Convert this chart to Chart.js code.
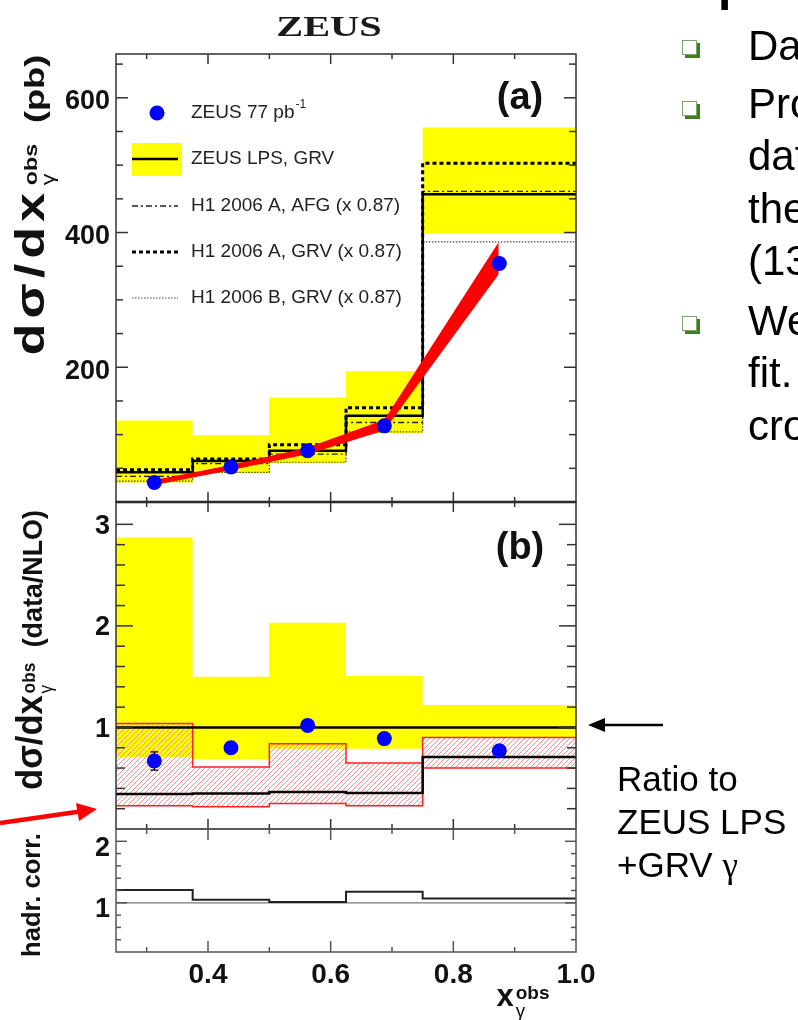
<!DOCTYPE html>
<html>
<head>
<meta charset="utf-8">
<title>ZEUS dsigma/dx_gamma^obs</title>
<script src="https://cdn.jsdelivr.net/npm/chart.js@4.4.1/dist/chart.umd.min.js"></script>
<style>
  html, body { margin: 0; padding: 0; background: #fff; }
  #page { position: relative; width: 798px; height: 1020px; overflow: hidden;
          font-family: "Liberation Sans", Arial, sans-serif; color: #000; }
  #page canvas { position: absolute; left: 0; top: 0; }
  .abs { position: absolute; white-space: nowrap; line-height: 1; }
  .slide { font-size: 42px; left: 748px; }
  .bullet { position: absolute; left: 682px; width: 13px; height: 13px;
            border: 1.5px solid #7ea567; box-shadow: 3px 3px 0 #3f7f22; background: #fff; }
  .note { font-size: 35px; left: 617px; }
  .ytitle { font-weight: bold; color: #111; }
  .dsig { font-size: 36px; }
  .ss { display: inline-block; vertical-align: middle; line-height: 0.95; text-align: left; font-size: 18px; margin-left: 2px; }
  .ss span { display: block; }
  .ss .g { font-weight: normal; }
  .unit { font-size: 28px; margin-left: 16px; }
  .plabel { font-weight: bold; font-size: 38px; color: #111; }
</style>
</head>
<body>
<div id="page">
  <canvas id="chartA" width="798" height="1020"></canvas>
  <canvas id="chartB" width="798" height="1020"></canvas>
  <canvas id="chartC" width="798" height="1020"></canvas>

  <div class="abs" id="zeusTitle" style="font-family:'Liberation Serif',serif;font-weight:bold;font-size:30px;color:#1a1a1a;">ZEUS</div>

  <div class="abs ytitle" id="titleA"><span class="dsig" style="font-size:40px;letter-spacing:4px">dσ/dx</span><span class="ss"><span>obs</span><span class="g">γ</span></span><span class="unit">(pb)</span></div>
  <div class="abs ytitle" id="titleB"><span class="dsig">dσ/dx</span><span class="ss"><span>obs</span><span class="g">γ</span></span><span class="unit">(data/NLO)</span></div>
  <div class="abs ytitle" id="titleC" style="font-size:25px;">hadr. corr.</div>
  <div class="abs ytitle" id="titleX"><span style="font-size:31px">x</span><span class="ss" style="font-size:19px"><span>obs</span><span class="g">γ</span></span></div>

  <div class="abs plabel" id="labelA">(a)</div>
  <div class="abs plabel" id="labelB">(b)</div>

  <div class="abs" style="font-size:48px;font-weight:bold;left:718px;top:-40px;">p</div>
  <div class="bullet" style="top:40px"></div>
  <div class="bullet" style="top:101px"></div>
  <div class="bullet" style="top:316px"></div>
  <div class="abs slide" style="top:25px">Da</div>
  <div class="abs slide" style="top:83px">Pro</div>
  <div class="abs slide" style="top:135px">dat</div>
  <div class="abs slide" style="top:188px">the</div>
  <div class="abs slide" style="top:240px">(13</div>
  <div class="abs slide" style="top:300px">We</div>
  <div class="abs slide" style="top:352px">fit.</div>
  <div class="abs slide" style="top:405px">cro</div>

  <div class="abs note" style="top:761px">Ratio to</div>
  <div class="abs note" style="top:804px">ZEUS LPS</div>
  <div class="abs note" style="top:847px">+GRV <span style="font-family:'Liberation Serif',serif">γ</span></div>

  <svg class="abs" style="left:0;top:0;pointer-events:none" width="798" height="1020">
    <line x1="663" y1="725" x2="600" y2="725" stroke="#000" stroke-width="2.5"/>
    <polygon points="588,725 605,718 605,732" fill="#000"/>
    <line x1="0" y1="823" x2="80" y2="811.5" stroke="#f00" stroke-width="4.5"/>
    <polygon points="97,809 76,803 79,821" fill="#f00"/>
  </svg>
</div>

<script>
Chart.defaults.font.family = '"Liberation Sans", Arial, sans-serif';
Chart.defaults.animation = false;

// x_gamma^obs bins
const binEdges = [0.25, 0.375, 0.5, 0.625, 0.75, 1.0];
const binCenters = [0.3125, 0.4375, 0.5625, 0.6875, 0.875];

// (a) cross section in pb
const zeusXsec = [29, 52, 76, 113, 354];
const zeusXsecErr = [3, 4, 5, 7, 22];
const lpsGrv = [44, 61, 76, 128, 457];
const lpsGrvLow = [29, 43, 58, 102, 398];
const lpsGrvHigh = [121, 99, 155, 194, 556];
const h1aAfg = [38, 57, 71, 118, 461];
const h1aGrv = [48, 64, 85, 140, 503];
const h1bGrv = [31, 44, 59, 104, 386];
const fitX = [0.3125, 0.4375, 0.5625, 0.6875, 0.874];
const fitLow = [27, 48, 71, 106, 338];
const fitHigh = [31, 55, 81, 122, 386];
const fitMid = [29, 51, 76, 113, 362];

// (b) ratio data/NLO
const ratioData = [0.67, 0.80, 1.02, 0.89, 0.77];
const ratioErr = [0.09, 0.04, 0.04, 0.04, 0.04];
const ratioBandLow = [0.71, 0.69, 0.79, 0.79, 0.90];
const ratioBandHigh = [2.87, 1.50, 2.03, 1.51, 1.22];
const h1Ratio = [0.345, 0.35, 0.365, 0.355, 0.71];
const h1RatioLow = [0.23, 0.22, 0.25, 0.23, 0.60];
const h1RatioHigh = [1.04, 0.61, 0.84, 0.65, 0.90];
const unitX = [0.25, 1.0];
const unitY = [1, 1];

// (c) hadronisation correction
const hadrCorr = [1.21, 1.05, 1.015, 1.18, 1.07];

// ticks
const xTickLabels = [0.4, 0.6, 0.8, 1.0];
const xMajorTicks = [0.4, 0.6, 0.8];
const xMinorTicks = [0.3, 0.5, 0.7, 0.9];
const aTickLabels = [200, 400, 600];
const bTickLabels = [1, 2, 3];
const cTickLabels = [1, 2];

const legendLabels = ['ZEUS 77 pb', 'ZEUS LPS, GRV', 'H1 2006 A, AFG (x 0.87)',
                      'H1 2006 A, GRV (x 0.87)', 'H1 2006 B, GRV (x 0.87)'];

const style = {
  lps: { color: '#000', width: 2.5, dash: [] },
  afg: { color: '#222', width: 1.3, dash: [6, 3, 2, 3] },
  h1a: { color: '#000', width: 3, dash: [4, 3] },
  h1b: { color: '#444', width: 1.2, dash: [1.5, 1.5] }
};
const yellow = '#ffff00';
const blue = '#0000ff';
const clear = 'rgba(0,0,0,0)';

function steps(values) {
  const p = values.map((v, i) => ({ x: binEdges[i], y: v }));
  p.push({ x: binEdges[binEdges.length - 1], y: values[values.length - 1] });
  return p;
}
function xy(xs, ys) { return xs.map((x, i) => ({ x: x, y: ys[i] })); }

// 'before' = horizontal run first, then the vertical jump at the next edge
function stepLine(values, st, order) {
  return { data: steps(values), stepped: 'before', borderColor: st.color, borderWidth: st.width,
           borderDash: st.dash, pointRadius: 0, fill: false, order: order };
}
function stepBand(low, high, fillColor, edgeColor, edgeWidth, order) {
  const edge = edgeColor || clear;
  return [
    { data: steps(low), stepped: 'before', borderColor: edge, borderWidth: edgeWidth || 0.01,
      pointRadius: 0, fill: false, order: order },
    { data: steps(high), stepped: 'before', borderColor: edge, borderWidth: edgeWidth || 0.01,
      pointRadius: 0, fill: fillColor ? '-1' : false, backgroundColor: fillColor || clear, order: order }
  ];
}
function points(xs, ys, order) {
  return { data: xy(xs, ys), showLine: false, pointRadius: 7.5, pointBackgroundColor: blue,
           pointBorderWidth: 0, order: order };
}

function range(from, to, step, skip) {
  const out = [];
  for (let v = from; v <= to + 1e-9; v += step) {
    const r = Math.round(v * 1000) / 1000;
    if (!skip.some(s => Math.abs(s - r) < 1e-6)) out.push(r);
  }
  return out;
}

function scalesFor(ymin, ymax, yLabels, labelOffset, showX) {
  return {
    x: {
      type: 'linear', min: 0.25, max: 1.0, display: showX,
      grid: { display: false, drawTicks: false }, border: { display: false },
      afterBuildTicks: ax => { ax.ticks = xTickLabels.map(v => ({ value: v })); },
      afterFit: ax => { ax.height = showX ? 45 : 0; },
      ticks: { font: { size: 28, weight: 'bold' }, color: '#111', padding: 6,
               autoSkip: false, maxRotation: 0, callback: v => Number(v).toFixed(1) }
    },
    y: {
      type: 'linear', min: ymin, max: ymax,
      grid: { display: false, drawTicks: false }, border: { display: false },
      afterBuildTicks: ax => { ax.ticks = yLabels.map(v => ({ value: v })); },
      afterFit: ax => { ax.width = 116; },
      ticks: { font: { size: 27, weight: 'bold' }, color: '#111', padding: 6,
               labelOffset: labelOffset, autoSkip: false, callback: v => String(v) }
    }
  };
}

// inward ticks on all four sides plus the frame
function frameTicks(cfg) {
  return {
    id: 'frameTicks',
    afterDatasetsDraw(chart) {
      const { ctx, chartArea: ca, scales: { x, y } } = chart;
      const seg = (x1, y1, x2, y2) => { ctx.beginPath(); ctx.moveTo(x1, y1); ctx.lineTo(x2, y2); ctx.stroke(); };
      ctx.save();
      ctx.strokeStyle = cfg.color;
      ctx.lineWidth = 1.5;
      const xt = (list, len) => list.forEach(v => {
        const p = x.getPixelForValue(v);
        seg(p, ca.bottom, p, ca.bottom - len);
        seg(p, ca.top, p, ca.top + len);
      });
      const yt = (list, len) => list.forEach(v => {
        const p = y.getPixelForValue(v);
        seg(ca.left, p, ca.left + len, p);
        seg(ca.right, p, ca.right - len, p);
      });
      xt(xMajorTicks, cfg.xMaj); xt(xMinorTicks, cfg.xMin);
      yt(cfg.yMajor, cfg.yMaj); yt(cfg.yMinor, cfg.yMin);
      ctx.strokeRect(ca.left, ca.top, ca.right - ca.left, ca.bottom - ca.top);
      if (cfg.bottomWidth) {
        ctx.lineWidth = cfg.bottomWidth; ctx.strokeStyle = '#111';
        seg(ca.left, ca.bottom, ca.right, ca.bottom);
      }
      ctx.restore();
    }
  };
}

const errorBars = {
  id: 'errorBars',
  beforeDatasetDraw(chart, args, opts) {
    if (args.index !== opts.dataset) return;
    const { ctx, scales: { x, y } } = chart;
    ctx.save();
    ctx.strokeStyle = '#000';
    ctx.lineWidth = 1.3;
    opts.xs.forEach((xv, i) => {
      const px = x.getPixelForValue(xv);
      const lo = y.getPixelForValue(opts.ys[i] - opts.errs[i]);
      const hi = y.getPixelForValue(opts.ys[i] + opts.errs[i]);
      ctx.beginPath();
      ctx.moveTo(px, lo); ctx.lineTo(px, hi);
      ctx.moveTo(px - 4, lo); ctx.lineTo(px + 4, lo);
      ctx.moveTo(px - 4, hi); ctx.lineTo(px + 4, hi);
      ctx.stroke();
    });
    ctx.restore();
  }
};

// diagonal hatching between a low and a high histogram, clipped to the bins
const hatchBand = {
  id: 'hatchBand',
  beforeDatasetDraw(chart, args, opts) {
    if (args.index !== opts.dataset) return;
    const { ctx, chartArea: ca, scales: { x, y } } = chart;
    ctx.save();
    ctx.beginPath();
    opts.low.forEach((lo, i) => {
      const x0 = x.getPixelForValue(binEdges[i]);
      const x1 = x.getPixelForValue(binEdges[i + 1]);
      const y0 = y.getPixelForValue(opts.high[i]);
      const y1 = y.getPixelForValue(lo);
      ctx.rect(x0, y0, x1 - x0, y1 - y0);
    });
    ctx.clip();
    ctx.strokeStyle = opts.color;
    ctx.lineWidth = 1;
    ctx.beginPath();
    const h = ca.bottom - ca.top;
    for (let d = ca.left - h; d < ca.right; d += 5) {
      ctx.moveTo(d, ca.bottom);
      ctx.lineTo(d + h, ca.top);
    }
    ctx.stroke();
    ctx.restore();
  }
};

const legendA = {
  id: 'legendA',
  afterDatasetsDraw(chart) {
    const { ctx, chartArea: ca } = chart;
    const rows = [59, 105, 152, 198, 244].map(r => ca.top + r);
    const mx = ca.left + 16, mw = 50, tx = ca.left + 75;
    const line = (yy, st) => {
      ctx.strokeStyle = st.color; ctx.lineWidth = st.width; ctx.setLineDash(st.dash);
      ctx.beginPath(); ctx.moveTo(mx, yy); ctx.lineTo(mx + mw - 4, yy); ctx.stroke();
      ctx.setLineDash([]);
    };
    ctx.save();
    ctx.fillStyle = blue;
    ctx.beginPath(); ctx.arc(ca.left + 41, rows[0], 7.5, 0, Math.PI * 2); ctx.fill();
    ctx.fillStyle = yellow;
    ctx.fillRect(mx, rows[1] - 16, mw, 33);
    line(rows[1], style.lps);
    line(rows[2], style.afg);
    line(rows[3], style.h1a);
    line(rows[4], style.h1b);
    ctx.fillStyle = '#222';
    ctx.textBaseline = 'middle';
    ctx.font = '19px "Liberation Sans"';
    legendLabels.forEach((t, i) => ctx.fillText(t, tx, rows[i]));
    const w = ctx.measureText(legendLabels[0]).width;
    ctx.font = '12px "Liberation Sans"';
    ctx.fillText('-1', tx + w + 1, rows[0] - 8);
    ctx.restore();
  }
};

const common = { responsive: false, devicePixelRatio: 1, animation: false, events: [] };

// panel (a)
new Chart(document.getElementById('chartA'), {
  type: 'line',
  data: {
    datasets: [
      ...stepBand(lpsGrvLow, lpsGrvHigh, yellow, null, 0, 10),
      stepLine(h1bGrv, style.h1b, 8),
      stepLine(h1aAfg, style.afg, 7),
      stepLine(lpsGrv, style.lps, 6),
      stepLine(h1aGrv, style.h1a, 5),
      { data: xy(fitX, fitLow), borderColor: clear, borderWidth: 0.01, pointRadius: 0, fill: false, order: 3 },
      { data: xy(fitX, fitHigh), borderColor: clear, borderWidth: 0.01, pointRadius: 0, fill: '-1',
        backgroundColor: '#ff0000', order: 3 },
      { data: xy(fitX, fitMid), borderColor: '#ff0000', borderWidth: 5, pointRadius: 0, fill: false, order: 2 },
      points(binCenters, zeusXsec, 1)
    ]
  },
  options: Object.assign({}, common, {
    layout: { padding: { left: 0, top: 54, right: 222, bottom: 518 } },
    scales: scalesFor(0, 665, aTickLabels, 4, false),
    plugins: {
      legend: { display: false }, tooltip: { enabled: false },
      errorBars: { dataset: 10, xs: binCenters, ys: zeusXsec, errs: zeusXsecErr }
    }
  }),
  plugins: [errorBars, legendA, frameTicks({
    color: '#333', xMaj: 10, xMin: 5, yMaj: 12, yMin: 7, bottomWidth: 2.5,
    yMajor: aTickLabels, yMinor: range(50, 650, 50, aTickLabels)
  })]
});

// panel (b)
new Chart(document.getElementById('chartB'), {
  type: 'line',
  data: {
    datasets: [
      ...stepBand(ratioBandLow, ratioBandHigh, yellow, null, 0, 10),
      ...stepBand(h1RatioLow, h1RatioHigh, null, '#ff2020', 1.5, 8),
      stepLine(h1Ratio, { color: '#000', width: 2.5, dash: [] }, 6),
      { data: xy(unitX, unitY), borderColor: '#000', borderWidth: 2.5, pointRadius: 0, fill: false, order: 5 },
      points(binCenters, ratioData, 1)
    ]
  },
  options: Object.assign({}, common, {
    layout: { padding: { left: 0, top: 502, right: 222, bottom: 191 } },
    scales: scalesFor(0, 3.22, bTickLabels, 2, false),
    plugins: {
      legend: { display: false }, tooltip: { enabled: false },
      errorBars: { dataset: 6, xs: binCenters, ys: ratioData, errs: ratioErr },
      hatchBand: { dataset: 3, low: h1RatioLow, high: h1RatioHigh, color: '#ff9090' }
    }
  }),
  plugins: [hatchBand, errorBars, frameTicks({
    color: '#333', xMaj: 10, xMin: 5, yMaj: 17, yMin: 9,
    yMajor: bTickLabels, yMinor: range(0.2, 3.0, 0.2, bTickLabels)
  })]
});

// panel (c)
new Chart(document.getElementById('chartC'), {
  type: 'line',
  data: {
    datasets: [
      { data: xy(unitX, unitY), borderColor: '#777', borderWidth: 1.2, pointRadius: 0, fill: false, order: 3 },
      stepLine(hadrCorr, { color: '#222', width: 2, dash: [] }, 2)
    ]
  },
  options: Object.assign({}, common, {
    layout: { padding: { left: 0, top: 829, right: 222, bottom: 23 } },
    scales: scalesFor(0.2, 2.2, cTickLabels, 7, true),
    plugins: { legend: { display: false }, tooltip: { enabled: false } }
  }),
  plugins: [frameTicks({
    color: '#555', xMaj: 11, xMin: 5, yMaj: 11, yMin: 5,
    yMajor: cTickLabels, yMinor: range(0.4, 2.0, 0.2, cTickLabels)
  })]
});

// text placement: centre at (cx, cy), optional rotation and stretch to a length
function place(id, cx, cy, len, rot) {
  const el = document.getElementById(id);
  const k = len ? len / el.offsetWidth : 1;
  el.style.left = cx + 'px';
  el.style.top = cy + 'px';
  el.style.transform = 'translate(-50%,-50%) rotate(' + (rot || 0) + 'deg) scale(' + k + ',1)';
}
place('zeusTitle', 329, 26, 105);
place('titleA', 33, 205, 300, -90);
place('titleB', 33, 650, 280, -90);
place('titleC', 31, 895, 124, -90);
place('titleX', 523, 1000);
place('labelA', 520, 96);
place('labelB', 520, 546);
</script>
</body>
</html>
